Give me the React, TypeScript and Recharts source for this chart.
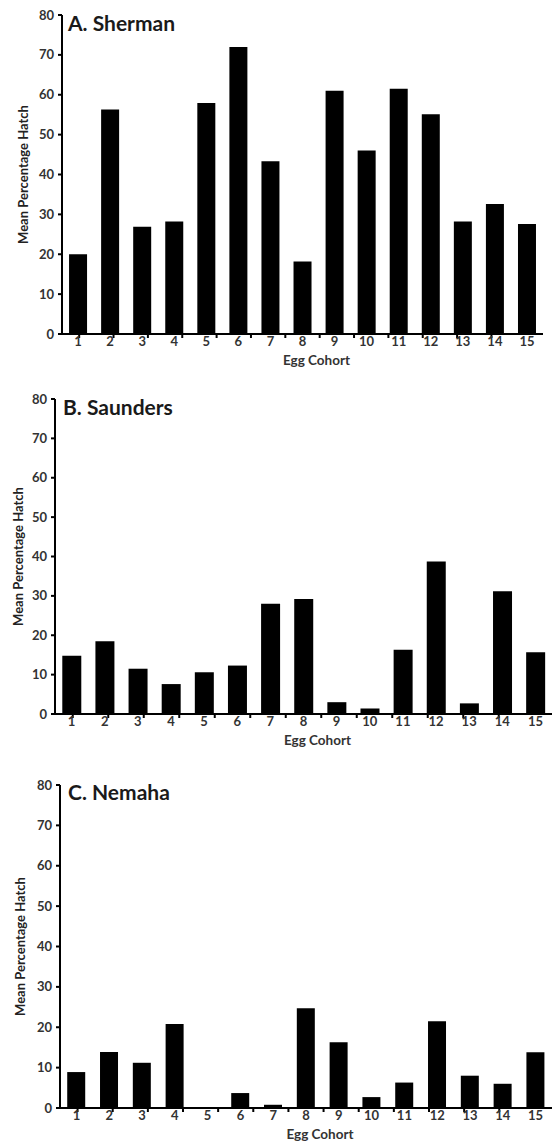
import React from 'react';
import { BarChart, Bar, XAxis, YAxis, Label } from 'recharts';

const cohorts = ['1', '2', '3', '4', '5', '6', '7', '8', '9', '10', '11', '12', '13', '14', '15'];
const shermanHatch = [20.0, 56.3, 26.9, 28.2, 57.9, 72.0, 43.3, 18.2, 61.0, 46.0, 61.5, 55.1, 28.2, 32.6, 27.6];
const saundersHatch = [14.8, 18.5, 11.5, 7.6, 10.6, 12.3, 28.0, 29.2, 3.0, 1.4, 16.3, 38.7, 2.7, 31.2, 15.7];
const nemahaHatch = [8.9, 13.9, 11.2, 20.8, 0, 3.7, 0.8, 24.7, 16.3, 2.7, 6.3, 21.5, 8.0, 6.0, 13.8];
const yTicks = [0, 10, 20, 30, 40, 50, 60, 70, 80];
const boundaryTicks = [0.5, 1.5, 2.5, 3.5, 4.5, 5.5, 6.5, 7.5, 8.5, 9.5, 10.5, 11.5, 12.5, 13.5, 14.5, 15.5];

const FONT = 'Lato, "Open Sans", sans-serif';
const emptyTick = () => <g />;

type PanelProps = {
  title: string;
  values: number[];
  top: number;
  height: number;
  margin: { top: number; right: number; left: number; bottom: number };
  yWidth: number;
  yTitleX: number;
  titleLeft: number;
  titleTop: number;
};

function Panel({ title, values, top, height, margin, yWidth, yTitleX, titleLeft, titleTop }: PanelProps) {
  const data = cohorts.map((c, i) => ({ cohort: c, value: values[i] }));
  return (
    <div style={{ position: 'absolute', left: 0, top, width: 554, height }}>
      <BarChart width={554} height={height} data={data} margin={margin} barCategoryGap="22%">
        <XAxis
          xAxisId={0}
          type="number"
          domain={[0.5, 15.5]}
          ticks={boundaryTicks}
          allowDataOverflow
          tick={emptyTick}
          tickSize={4}
          tickLine={{ stroke: '#000', strokeWidth: 2 }}
          axisLine={{ stroke: '#000', strokeWidth: 2 }}
          height={1}
        />
        <XAxis
          xAxisId={1}
          dataKey="cohort"
          axisLine={false}
          tickLine={false}
          tickSize={0}
          tickMargin={2}
          interval={0}
          height={30}
          tick={{ fill: '#333', fontSize: 13, fontWeight: 700, fontFamily: FONT }}
        >
          <Label
            value="Egg Cohort"
            position="insideBottom"
            offset={0}
            dx={14}
            style={{ fill: '#333', fontSize: 13.5, fontWeight: 700, fontFamily: FONT }}
          />
        </XAxis>
        <YAxis
          domain={[0, 80]}
          ticks={yTicks}
          width={yWidth}
          tickSize={4}
          tickMargin={4}
          axisLine={{ stroke: '#000', strokeWidth: 2 }}
          tickLine={{ stroke: '#000', strokeWidth: 2 }}
          tick={{ fill: '#333', fontSize: 13, fontWeight: 700, fontFamily: FONT }}
        >
          <Label
            value="Mean Percentage Hatch"
            angle={-90}
            position="insideLeft"
            offset={yTitleX}
            style={{ textAnchor: 'middle', fill: '#222', fontSize: 13, fontWeight: 700, fontFamily: FONT }}
          />
        </YAxis>
        <Bar xAxisId={1} dataKey="value" fill="#000" isAnimationActive={false} />
      </BarChart>
      <div
        style={{
          position: 'absolute',
          left: titleLeft,
          top: titleTop,
          fontFamily: FONT,
          fontSize: 21,
          lineHeight: '21px',
          fontWeight: 700,
          color: '#1a1a1a',
          whiteSpace: 'nowrap',
        }}
      >
        {title}
      </div>
    </div>
  );
}

export default function App() {
  return (
    <div style={{ position: 'absolute', left: 0, top: 0, width: 554, height: 1143, background: '#fff' }}>
      <Panel
        title="A. Sherman"
        values={shermanHatch}
        top={0}
        height={370}
        margin={{ top: 15, right: 11, left: 0, bottom: 5 }}
        yWidth={62}
        yTitleX={23}
        titleLeft={68}
        titleTop={12}
      />
      <Panel
        title="B. Saunders"
        values={saundersHatch}
        top={385}
        height={370}
        margin={{ top: 14, right: 2, left: 0, bottom: 10 }}
        yWidth={55}
        yTitleX={18}
        titleLeft={63}
        titleTop={11}
      />
      <Panel
        title="C. Nemaha"
        values={nemahaHatch}
        top={770}
        height={373}
        margin={{ top: 15, right: 2, left: 0, bottom: 4 }}
        yWidth={60}
        yTitleX={20}
        titleLeft={68}
        titleTop={11}
      />
    </div>
  );
}
